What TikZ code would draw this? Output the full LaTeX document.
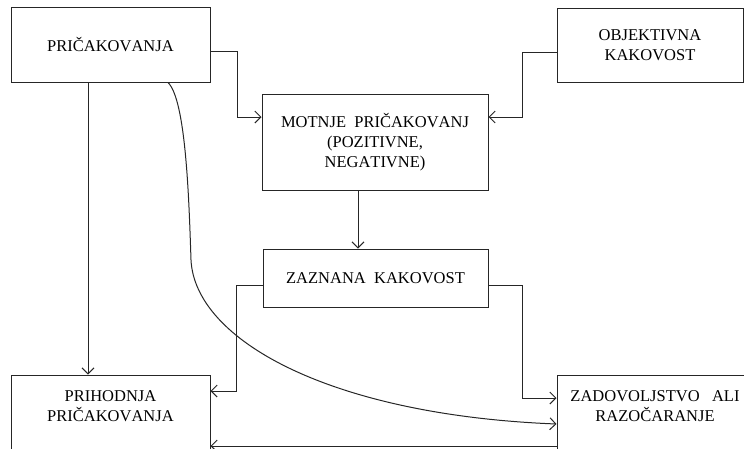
\documentclass[tikz,border=0pt]{standalone}
\usepackage{fontspec}
\setmainfont[Kerning=Off]{Liberation Serif}
\usetikzlibrary{arrows.meta,positioning}

\begin{document}
\begin{tikzpicture}[
    x=1pt, y=-1pt,
    every node/.style={draw=black!85, line width=1pt, align=center, inner sep=0pt,
        font=\fontsize{16.5}{20}\selectfont},
    arr/.style={-{Straight Barb[length=6pt,width=12pt]}, draw=black!85, line width=1pt}
]
\useasboundingbox (0,0) rectangle (744,448);

\node[minimum width=199pt, minimum height=75pt] (pric) at (110.5,44.5) {PRIČAKOVANJA};
\node[minimum width=186pt, minimum height=74pt] (objek) at (650,45) {OBJEKTIVNA\\KAKOVOST};
\node[minimum width=226pt, minimum height=96pt] (motnje) at (375,142) {MOTNJE\ \ PRIČAKOVANJ\\(POZITIVNE,\\NEGATIVNE)};
\node[minimum width=225pt, minimum height=58pt] (zaznana) at (375.5,278) {ZAZNANA\ \ KAKOVOST};
\node[minimum width=199pt, minimum height=82pt] (prihod) at (110.5,416) {PRIHODNJA\\PRIČAKOVANJA\\\mbox{}};
\node[minimum width=196pt, minimum height=82pt] (zadov) at (655,416) {ZADOVOLJSTVO\ \ \ ALI\\RAZOČARANJE\\\mbox{}};

% Connections
\draw[arr] ([yshift=-6.5pt]pric.east) -- ++(27,0) |- ([yshift=25pt]motnje.west);
\draw[arr] ([yshift=-7pt]objek.west) -- ++(-34,0) |- ([yshift=25pt]motnje.east);
\draw[arr] ([xshift=-17pt]motnje.south) -- ([xshift=-17.5pt]zaznana.north);
\draw[arr] ([yshift=-7pt]zaznana.west) -- ++(-26,0) |- ([yshift=25pt]prihod.east);
\draw[arr] ([yshift=-7pt]zaznana.east) -- ++(34,0) |- ([yshift=18pt]zadov.west);
\draw[arr] ([xshift=-22.5pt]pric.south) -- ([xshift=-22.5pt]prihod.north);
\draw[arr] ([xshift=57.5pt]pric.south) .. controls (186,100) and (189,200) .. (191,260)
    .. controls (195,340) and (330,415) .. ([yshift=-8pt]zadov.west);
\draw[arr] ([yshift=-30pt]zadov.west) -- ([yshift=-30pt]prihod.east);

\end{tikzpicture}
\end{document}
